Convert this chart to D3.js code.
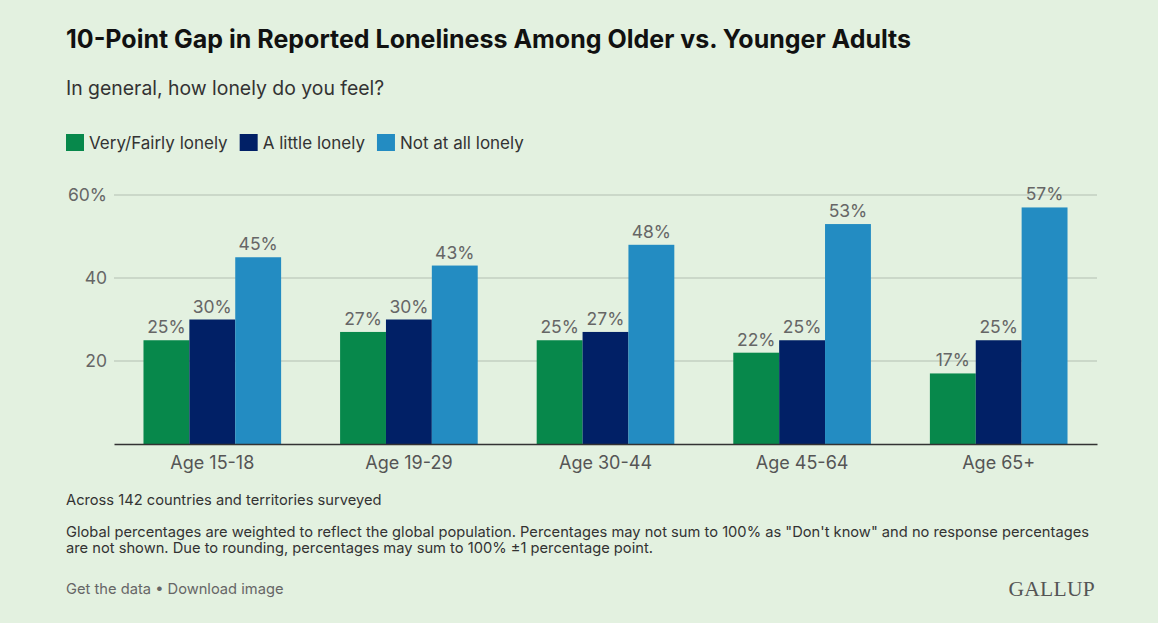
<!DOCTYPE html>
<html><head><meta charset="utf-8">
<script src="https://cdn.jsdelivr.net/npm/d3@7"></script>
<style>
html,body{margin:0;padding:0;background:#e3f1e0;}
svg{display:block;}
</style></head><body>
<svg id="c" width="1158" height="623"></svg>
<script>
const categories = ["Age 15-18","Age 19-29","Age 30-44","Age 45-64","Age 65+"];
const seriesNames = ["Very/Fairly lonely","A little lonely","Not at all lonely"];
const veryFairly = [25,27,25,22,17];
const aLittle = [30,30,27,25,25];
const notAtAll = [45,43,48,53,57];
const yTicks = [20,40,60];
const colors = ["#07884b","#012066","#238cc2"];

const series = [veryFairly, aLittle, notAtAll];
const svg = d3.select("#c");
const font = "Inter, 'Open Sans', sans-serif";
svg.append("rect").attr("width",1158).attr("height",623).attr("fill","#e3f1e0");

svg.append("text").attr("x",66).attr("y",48).attr("font-family",font).attr("font-weight",700)
  .attr("font-size",25).attr("fill","#111").text("10-Point Gap in Reported Loneliness Among Older vs. Younger Adults");
svg.append("text").attr("x",66).attr("y",95).attr("font-family",font)
  .attr("font-size",19.4).attr("fill","#333").text("In general, how lonely do you feel?");

// legend
let lx = 66;
seriesNames.forEach((n,i)=>{
  svg.append("rect").attr("x",lx).attr("y",134).attr("width",18).attr("height",17).attr("fill",colors[i]);
  const t = svg.append("text").attr("x",lx+23).attr("y",149).attr("font-family",font)
    .attr("font-size",17).attr("fill","#333").text(n);
  lx += 23 + t.node().getComputedTextLength() + 12;
});

const x = d3.scaleBand().domain(categories).range([114,1097]).paddingInner(0.3).paddingOuter(0.15);
const xs = d3.scaleBand().domain(d3.range(3)).range([0,x.bandwidth()]);
const y = d3.scaleLinear().domain([0,60]).range([444,195]);

// gridlines
svg.append("g").selectAll("line").data(yTicks).join("line")
  .attr("x1",114).attr("x2",1097).attr("y1",d=>y(d)).attr("y2",d=>y(d))
  .attr("stroke","#cbd8c9").attr("stroke-width",2);
svg.append("g").selectAll("text").data(yTicks).join("text")
  .attr("x",107).attr("y",d=>y(d)+6).attr("text-anchor","end")
  .attr("font-family",font).attr("font-size",17.5).attr("fill","#666")
  .text(d=>d===60? d+"%" : d);

// bars
const g = svg.append("g");
series.forEach((vals,si)=>{
  g.selectAll(null).data(vals).join("rect")
    .attr("x",(d,i)=>x(categories[i])+xs(si))
    .attr("y",d=>y(d)).attr("width",xs.bandwidth()).attr("height",d=>y(0)-y(d))
    .attr("fill",colors[si]);
  g.selectAll(null).data(vals).join("text")
    .attr("x",(d,i)=>x(categories[i])+xs(si)+xs.bandwidth()/2)
    .attr("y",d=>y(d)-7).attr("text-anchor","middle")
    .attr("font-family",font).attr("font-size",17.5).attr("fill","#666")
    .text(d=>d+"%");
});

// baseline axis
const ax = svg.append("g").attr("transform","translate(0,444)")
  .call(d3.axisBottom(x).tickSize(0).tickPadding(12));
ax.select(".domain").attr("stroke","#333").attr("stroke-width",1.5);
ax.selectAll("text").attr("font-family",font).attr("font-size",18).attr("fill","#555");

// notes
svg.append("text").attr("x",66).attr("y",505).attr("font-family",font)
  .attr("font-size",14.7).attr("fill","#333").text("Across 142 countries and territories surveyed");
svg.append("text").attr("x",66).attr("y",537).attr("font-family",font)
  .attr("font-size",14.7).attr("fill","#333").text("Global percentages are weighted to reflect the global population. Percentages may not sum to 100% as \"Don't know\" and no response percentages");
svg.append("text").attr("x",66).attr("y",553).attr("font-family",font)
  .attr("font-size",14.7).attr("fill","#333").text("are not shown. Due to rounding, percentages may sum to 100% \u00b11 percentage point.");
svg.append("text").attr("x",66).attr("y",594).attr("font-family",font)
  .attr("font-size",14.7).attr("fill","#666").text("Get the data \u2022 Download image");
svg.append("text").attr("x",1095).attr("y",596).attr("text-anchor","end").attr("font-family","'Liberation Serif', serif")
  .attr("font-size",21.5).attr("fill","#555").attr("letter-spacing",0.3).text("GALLUP");
</script>
</body></html>
